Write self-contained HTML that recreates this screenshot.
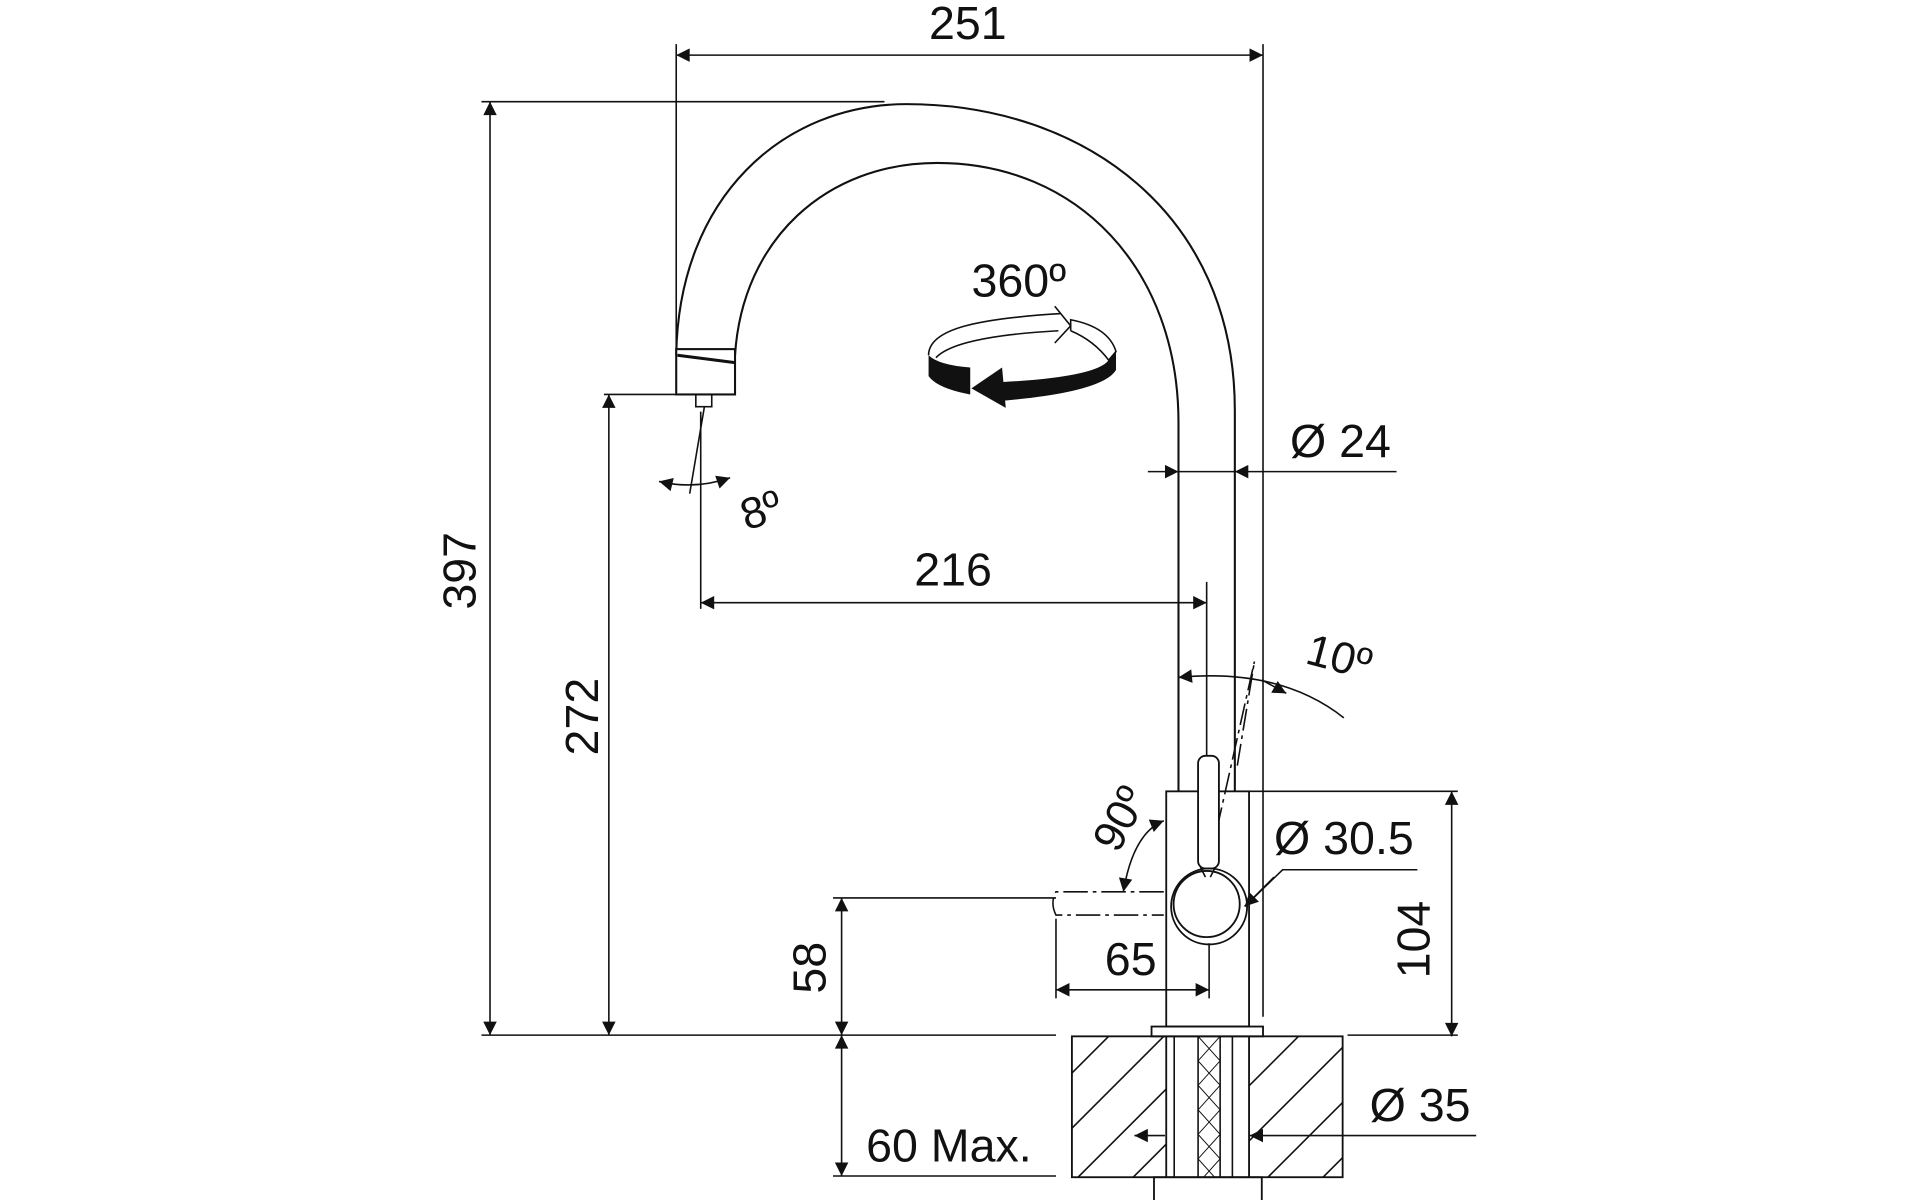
<!DOCTYPE html>
<html><head><meta charset="utf-8"><style>
html,body{margin:0;padding:0;background:#fff;}
svg{display:block}
text{font-family:"Liberation Sans",Arial,sans-serif;fill:#111;}
</style></head><body>
<svg width="1920" height="1200" viewBox="0 0 1567.3 979.6" preserveAspectRatio="none" xmlns="http://www.w3.org/2000/svg">
<defs>
<marker id="a" viewBox="0 0 10 10" refX="10" refY="5" markerWidth="24" markerHeight="11" markerUnits="userSpaceOnUse" orient="auto-start-reverse"><path d="M0,0 L10,5 L0,10 z" fill="#111"/></marker>
<clipPath id="cl"><rect x="875" y="846" width="77" height="115"/></clipPath>
<clipPath id="cr"><rect x="1020" y="846" width="76" height="115"/></clipPath>
<clipPath id="ch"><rect x="978" y="846" width="18" height="115"/></clipPath>
</defs>
<g stroke="#111" stroke-width="1.3" fill="none">
<!-- spout -->
<path d="M552,290 C554,160 640,85 740,85 C885,85 1008,175 1008,335 L1008,646" stroke-width="1.7"/>
<path d="M600,290 C606,195 675,133 765,133 C880,133 962,220 962,345 L962,646" stroke-width="1.7"/>
<rect x="552" y="285" width="48" height="37" fill="#fff" stroke-width="1.7"/>
<line x1="553" y1="290" x2="600" y2="296" stroke-width="2.5"/>
<rect x="568" y="322" width="13" height="10"/>
<!-- 251 -->
<line x1="552" y1="45" x2="1031" y2="45" marker-start="url(#a)" marker-end="url(#a)"/>
<line x1="552" y1="36" x2="552" y2="285"/>
<line x1="1031" y1="36" x2="1031" y2="830"/>
<!-- 397 -->
<line x1="393" y1="83" x2="722" y2="83"/>
<line x1="400" y1="83" x2="400" y2="845" marker-start="url(#a)" marker-end="url(#a)"/>
<!-- 272 -->
<line x1="493" y1="322" x2="552" y2="322"/>
<line x1="497" y1="322" x2="497" y2="845" marker-start="url(#a)" marker-end="url(#a)"/>
<!-- base line -->
<line x1="393" y1="845" x2="862" y2="845"/>
<line x1="1100" y1="845" x2="1190" y2="845"/>
<!-- 8 deg -->
<line x1="575" y1="332" x2="563" y2="403"/>
<line x1="572" y1="336" x2="572" y2="497"/>
<path d="M538,393 Q567,400 596,390" marker-start="url(#a)" marker-end="url(#a)"/>
<!-- 216 -->
<line x1="572" y1="492" x2="985" y2="492" marker-start="url(#a)" marker-end="url(#a)"/>
<line x1="985" y1="475" x2="985" y2="630"/>
<!-- Ø24 -->
<line x1="937" y1="385" x2="962" y2="385" marker-end="url(#a)"/>
<line x1="1140" y1="385" x2="1008" y2="385" marker-end="url(#a)"/>
<line x1="962" y1="385" x2="1008" y2="385"/>
<!-- 10 deg -->
<line x1="987" y1="705" x2="1024" y2="540" stroke-dasharray="18,4,3,4"/>
<line x1="1010" y1="625" x2="1024" y2="540" stroke-dasharray="18,4,3,4"/>
<path d="M962,553 Q1045,545 1097,586" marker-start="url(#a)"/>
<path d="M1030,555 L1050,566" marker-end="url(#a)"/>
<!-- body -->
<rect x="952" y="646" width="67.6" height="192" stroke-width="1.5"/>
<line x1="1019" y1="646" x2="1190" y2="646"/>
<rect x="940" y="838" width="91" height="8" stroke-width="1.5"/>
<!-- lever -->
<rect x="978" y="617" width="17" height="92" rx="6" fill="#fff" stroke-width="1.5"/>
<circle cx="987" cy="740" r="31" stroke-width="1.5"/>
<circle cx="985" cy="738" r="27" stroke-width="1.5" fill="#fff"/>
<path d="M980,708 L984,716 M992,708 L988,716"/>
<!-- 90 deg -->
<path d="M950,670 Q925,680 917,728" marker-start="url(#a)" marker-end="url(#a)"/>
<path d="M950,728 L862,728 Q857,737 862,747 L950,747" stroke-dasharray="20,4,3,4"/>
<!-- 58 -->
<line x1="680" y1="733" x2="862" y2="733"/>
<line x1="687" y1="733" x2="687" y2="845" marker-start="url(#a)" marker-end="url(#a)"/>
<line x1="687" y1="845" x2="687" y2="960" marker-start="url(#a)" marker-end="url(#a)"/>
<!-- 65 -->
<line x1="862" y1="750" x2="862" y2="815"/>
<line x1="987" y1="770" x2="987" y2="815"/>
<line x1="862" y1="808" x2="987" y2="808" marker-start="url(#a)" marker-end="url(#a)"/>
<!-- Ø30.5 -->
<polyline points="1157,710 1047,710 1016,740"/>
<path d="M1040,716 L1016,740" marker-end="url(#a)"/>
<!-- 104 -->
<line x1="1185" y1="646" x2="1185" y2="846" marker-start="url(#a)" marker-end="url(#a)"/>
<!-- base block -->
<rect x="875" y="846" width="221" height="115" stroke-width="1.5"/>
<g clip-path="url(#cl)">
<path d="M835,961 L950,846 M880,961 L995,846 M925,961 L1040,846 M790,961 L905,846 M745,961 L860,846"/>
</g>
<g clip-path="url(#cr)">
<path d="M990,961 L1105,846 M1035,961 L1150,846 M1080,961 L1195,846 M945,961 L1060,846"/>
</g>
<line x1="952" y1="846" x2="952" y2="961" stroke-width="1.5"/>
<line x1="1019.6" y1="846" x2="1019.6" y2="961" stroke-width="1.5"/>
<line x1="958.5" y1="846" x2="958.5" y2="961"/>
<line x1="1006" y1="846" x2="1006" y2="961"/>
<line x1="978" y1="846" x2="978" y2="961"/>
<line x1="996" y1="846" x2="996" y2="961"/>
<g clip-path="url(#ch)" stroke-width="0.8">
<path d="M978,846 L996,866 L978,886 L996,906 L978,926 L996,946 L978,966 M996,846 L978,866 L996,886 L978,906 L996,926 L978,946 L996,966"/>
</g>
<rect x="942" y="961" width="88" height="20" stroke-width="1.5"/>
<!-- Ø35 -->
<line x1="951" y1="927" x2="926" y2="927" marker-end="url(#a)"/>
<line x1="1205" y1="927" x2="1020" y2="927" marker-end="url(#a)"/>
<line x1="680" y1="960" x2="862" y2="960"/>
<!-- rotation symbol -->
<path d="M758,290 C758,268 800,260 866,256" stroke-width="1.3"/>
<path d="M764,292 C775,280 810,273 864,270" stroke-width="1.3"/>
<path d="M861,250 L874,266 L861,280" stroke-width="1.3"/>
<path d="M874,270 L874,261 Q905,267 911,287 L905,294 Q893,278 874,270" stroke-width="1.3"/>
</g>
<path d="M758,290 L758,307 Q765,317 792,322 L792,300 Q766,298 758,290 z" fill="#111"/>
<path d="M911,287 L911,302 Q900,320 820,327 L816,312 Q895,308 905,294 z" fill="#111"/>
<path d="M793,317 L818,300 L821,333 z" fill="#111"/>
<text x="793" y="242" font-size="38">360º</text>
<text x="790" y="32" font-size="38" text-anchor="middle">251</text>
<text x="778" y="478" font-size="38" text-anchor="middle">216</text>
<text x="1053" y="373" font-size="38">Ø 24</text>
<text x="1040" y="697" font-size="38">Ø 30.5</text>
<text x="1118" y="915" font-size="38">Ø 35</text>
<text x="707" y="948" font-size="38">60 Max.</text>
<text x="923" y="796" font-size="38" text-anchor="middle">65</text>
<text transform="translate(388,466) rotate(-90)" font-size="38" text-anchor="middle">397</text>
<text transform="translate(488,585) rotate(-90)" font-size="38" text-anchor="middle">272</text>
<text transform="translate(674,790) rotate(-90)" font-size="38" text-anchor="middle">58</text>
<text transform="translate(1167,767) rotate(-90)" font-size="38" text-anchor="middle">104</text>
<text transform="translate(625,428) rotate(-18)" font-size="36" text-anchor="middle">8º</text>
<text transform="translate(1090,548) rotate(15)" font-size="36" text-anchor="middle">10º</text>
<text transform="translate(925,674) rotate(-62)" font-size="36" text-anchor="middle">90º</text>
</svg>
</body></html>
